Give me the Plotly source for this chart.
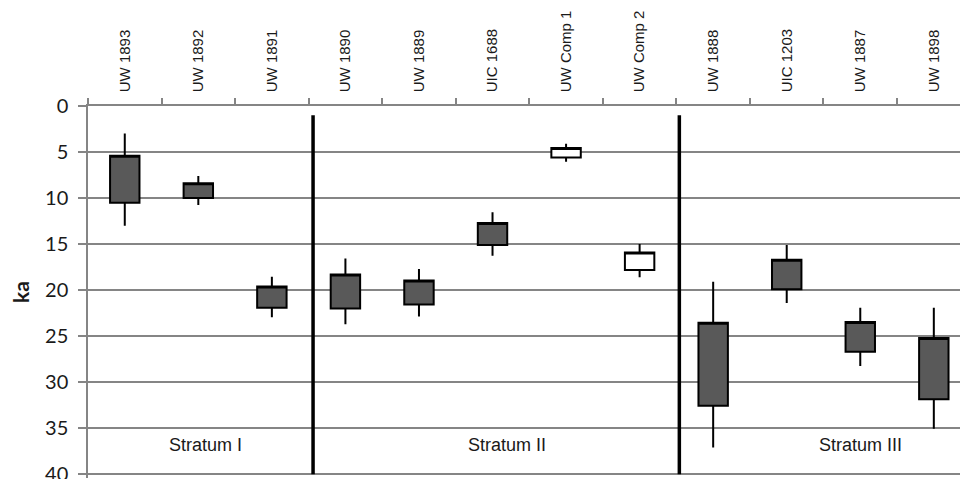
import plotly.graph_objects as go

categories = ["UW 1893", "UW 1892", "UW 1891", "UW 1890", "UW 1889", "UIC 1688",
              "UW Comp 1", "UW Comp 2", "UW 1888", "UIC 1203", "UW 1887", "UW 1898"]
box_top = [5.4, 8.4, 19.6, 18.3, 18.95, 12.7, 4.55, 15.9, 23.55, 16.7, 23.45, 25.2]
box_bottom = [10.5, 10.0, 21.9, 22.0, 21.55, 15.1, 5.6, 17.8, 32.55, 19.9, 26.7, 31.85]
whisker_top = [3.0, 7.6, 18.55, 16.55, 17.7, 11.55, 4.1, 15.0, 19.1, 15.1, 21.9, 21.9]
whisker_bottom = [13.0, 10.75, 22.95, 23.7, 22.85, 16.25, 6.05, 18.6, 37.1, 21.4, 28.25, 35.05]
open_box = [False, False, False, False, False, False, True, True, False, False, False, False]
strata = ["Stratum I", "Stratum II", "Stratum III"]
y_ticks = [0, 5, 10, 15, 20, 25, 30, 35, 40]

GRID = "#858585"

fig = go.Figure()

for is_open, fill in [(False, "#595959"), (True, "#ffffff")]:
    idx = [i for i in range(len(categories)) if open_box[i] == is_open]
    fig.add_trace(go.Box(
        x=[categories[i] for i in idx],
        q1=[box_top[i] for i in idx],
        median=[box_top[i] for i in idx],
        q3=[box_bottom[i] for i in idx],
        lowerfence=[whisker_top[i] for i in idx],
        upperfence=[whisker_bottom[i] for i in idx],
        fillcolor=fill,
        line=dict(color="black", width=2),
        whiskerwidth=0,
        width=0.4,
        boxpoints=False,
        showlegend=False,
    ))

# stratum dividers
for xpos in [2.56, 7.54]:
    fig.add_shape(type="line", xref="x", yref="y", x0=xpos, x1=xpos, y0=1.0, y1=40,
                  line=dict(color="black", width=3.5), layer="above")

strata_x = [1.1, 5.2, 10.0]
for name, xs in zip(strata, strata_x):
    fig.add_annotation(x=xs, y=36.8, xref="x", yref="y", text=name, showarrow=False,
                       font=dict(family="Liberation Sans, Arial, sans-serif", size=18, color="#1a1a1a"))

fig.add_annotation(x=0, xref="paper", y=0.5, yref="paper", xshift=-68, text="<b>ka</b>",
                   xanchor="center", yanchor="middle",
                   textangle=-90, showarrow=False,
                   font=dict(family="Lato, sans-serif", size=21, color="#1a1a1a"))

fig.update_layout(
    width=960, height=479,
    margin=dict(l=88, r=0, t=106, b=1, autoexpand=False),
    paper_bgcolor="white", plot_bgcolor="white",
    boxmode="overlay",
    xaxis=dict(
        type="category", categoryorder="array", categoryarray=categories,
        side="top", range=[-0.5, 11.356], automargin=False,
        showline=True, linecolor=GRID, linewidth=1.5,
        ticks="outside", tickson="boundaries", ticklen=6, tickcolor=GRID, tickwidth=1.5,
        tickangle=-90, showgrid=False, ticklabelstandoff=9,
        tickfont=dict(family="Liberation Sans, Arial, sans-serif", size=15, color="#1a1a1a"),
    ),
    yaxis=dict(
        range=[40.4, 0], tickvals=y_ticks, automargin=False,
        showline=True, linecolor=GRID, linewidth=1.5,
        ticks="outside", ticklen=8, tickcolor=GRID, tickwidth=1.5,
        showgrid=True, gridcolor=GRID, gridwidth=1.5, zeroline=False,
        ticklabelstandoff=6, ticklabeloverflow="allow",
        tickfont=dict(family="Lato, sans-serif", size=20, color="#1a1a1a"),
    ),
)

fig.write_html("out.html")
